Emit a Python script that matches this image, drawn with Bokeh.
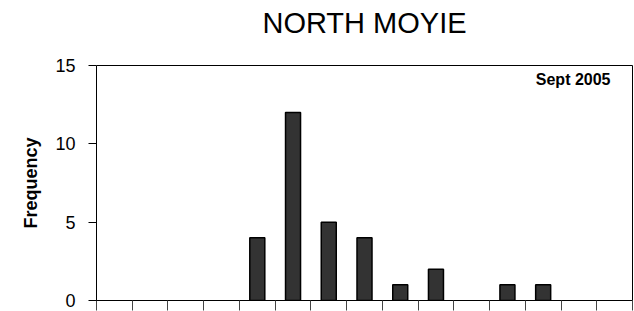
from bokeh.plotting import figure
from bokeh.models import (FixedTicker, Label, Range1d, ColumnDataSource, CDSView,
                          BooleanFilter, LinearAxis)
from bokeh.embed import file_html
from bokeh.resources import INLINE

# Data
bins = list(range(15))
counts = [0, 0, 0, 0, 4, 12, 5, 4, 1, 2, 0, 1, 1, 0, 0]
y_ticks = [0, 5, 10, 15]
title_text = "NORTH MOYIE"
y_label = "Frequency"
note_text = "Sept 2005"

FONT = "Liberation Sans"

p = figure(width=634, height=311, x_range=Range1d(0, len(bins)), y_range=Range1d(0, 15),
           output_backend="svg", toolbar_location=None,
           min_border_left=96, min_border_right=2, min_border_top=65, min_border_bottom=11)

# invisible spacer (white tick on white) between the frame and the title
spacer = LinearAxis(ticker=FixedTicker(ticks=[0]), major_tick_out=27, major_tick_in=0,
                    axis_line_color=None, major_tick_line_color="white",
                    minor_tick_line_color=None, major_label_text_font_size="0px",
                    major_label_text_color=None, major_label_standoff=0)
p.add_layout(spacer, "above")

p.title.text = title_text
p.title.align = "center"
p.title.offset = 8
p.title.text_font = FONT
p.title.text_font_size = "29px"
p.title.text_font_style = "normal"
p.title.text_color = "black"
p.title.standoff = 0

source = ColumnDataSource(data=dict(x=[b + 0.5 for b in bins], top=counts))
view = CDSView(filter=BooleanFilter([c > 0 for c in counts]))
p.vbar(x="x", top="top", width=0.42, bottom=0, source=source, view=view,
       fill_color="#333333", line_color="black", line_width=1.5)

p.xgrid.visible = False
p.ygrid.visible = False
p.outline_line_color = "black"
p.outline_line_width = 1

p.yaxis.ticker = FixedTicker(ticks=y_ticks)
p.yaxis.minor_tick_line_color = None
p.yaxis.major_tick_in = 0
p.yaxis.major_tick_out = 8
p.yaxis.major_label_standoff = 13
p.yaxis.major_label_text_font = FONT
p.yaxis.major_label_text_font_size = "18px"
p.yaxis.major_label_text_color = "black"
p.yaxis.axis_label = y_label
p.yaxis.axis_label_text_font = FONT
p.yaxis.axis_label_text_font_size = "18px"
p.yaxis.axis_label_text_font_style = "bold"
p.yaxis.axis_label_text_color = "black"
p.yaxis.axis_label_standoff = 11
p.yaxis.axis_line_color = "black"

xax = p.below[0]
xax.ticker = FixedTicker(ticks=list(range(len(bins) + 1)))
xax.minor_tick_line_color = None
xax.major_tick_in = 0
xax.major_tick_out = 10
xax.major_label_text_font_size = "0px"
xax.major_label_text_color = None
xax.major_label_standoff = 0
xax.axis_line_color = "black"
xax.major_tick_line_color = "#444444"

p.add_layout(Label(x=len(bins), y=15, x_offset=-22, y_offset=-5, text=note_text,
                   text_align="right", text_baseline="top", text_font=FONT,
                   text_font_size="16px", text_font_style="bold", text_color="black"))

open("out.html", "w").write(file_html(p, INLINE))
